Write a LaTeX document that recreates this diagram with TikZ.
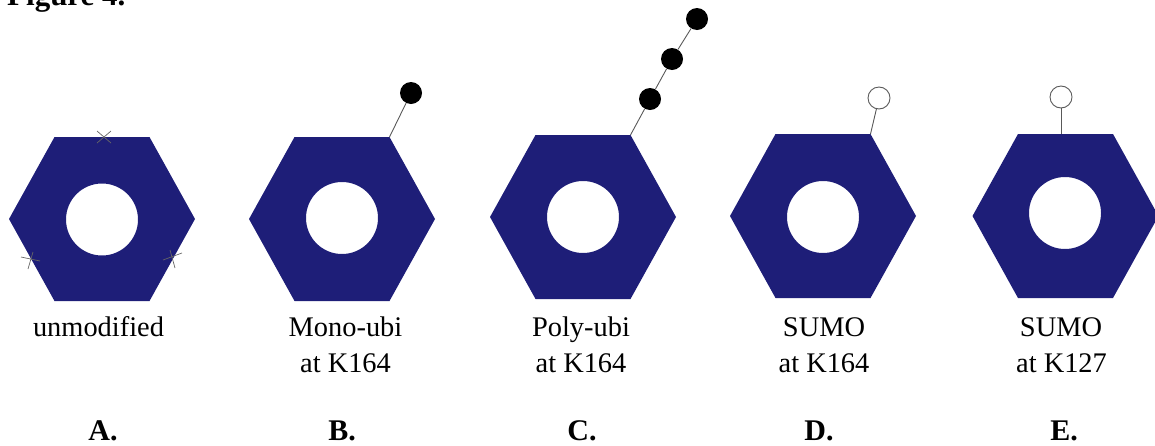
\documentclass[tikz,border=0pt]{standalone}
\usepackage{fontspec}
\setmainfont{Liberation Serif}
\definecolor{hexblue}{RGB}{30,30,120}
\newcommand\hexring[5]{% cx, cy, hole cx, hole cy, name
  \fill[hexfill] (#1-93,#2) -- (#1-47.5,#2-82) -- (#1+47.5,#2-82) -- (#1+93,#2)
    -- (#1+47.5,#2+82) -- (#1-47.5,#2+82) -- cycle
    (#3,#4) circle[radius=36];
  \coordinate (#5-tr) at (#1+47.5,#2-82);
}
\begin{document}
\begin{tikzpicture}[x=1pt,y=-1pt,
  hexfill/.style={fill=hexblue, even odd rule},
  stem/.style={draw=black!65, line width=0.9pt},
  ubi/.style={circle, fill=black, inner sep=0pt, minimum size=22pt},
  sumo/.style={circle, draw=black!65, fill=white, line width=0.9pt, inner sep=0pt, minimum size=22pt},
  lab/.style={anchor=base, font=\fontsize{28.4}{34}\selectfont, inner sep=0pt},
  letter/.style={anchor=base, font=\fontsize{30}{36}\selectfont\bfseries, inner sep=0pt},
  cross/.style={draw=black!60, line width=0.7pt}]
\useasboundingbox (0,0) rectangle (1155,445);

\node[anchor=base west, inner sep=0pt, font=\fontsize{31}{36}\selectfont\bfseries] (fig) at (7,5) {Figure 4.};

% A
\hexring{102}{219}{102}{219.5}{A}
\draw[cross] (97,131) -- (111,143) (97,143) -- (111,131);
\draw[cross] (21,257) -- (40,261) (28,269) -- (33,252);
\draw[cross] (163,260) -- (182,253) (170,250) -- (175,268);
\node[lab] (la) at (98.5,336) {unmodified};
\node[letter] (ca) at (103,440) {A.};

% B
\hexring{342}{219}{342}{218}{B}
\node[ubi] (b1) at (411,93) {};
\draw[stem] (B-tr) -- (b1);
\node[lab] (lb1) at (345.5,336) {Mono-ubi};
\node[lab] (lb2) at (345.5,372) {at K164};
\node[letter] (cb) at (342,440) {B.};

% C
\hexring{583}{217}{583}{217}{C}
\node[ubi] (c1) at (650,99) {};
\node[ubi] (c2) at (672,59) {};
\node[ubi] (c3) at (697,19) {};
\draw[stem] (C-tr) -- (c1) -- (c2) -- (c3);
\node[lab] (lc1) at (581,336) {Poly-ubi};
\node[lab] (lc2) at (581,372) {at K164};
\node[letter] (cc) at (582,440) {C.};

% D
\hexring{823}{216}{823}{217}{D}
\node[sumo] (d1) at (879,98) {};
\draw[stem] (D-tr) -- (d1);
\node[lab] (ld1) at (824,336) {SUMO};
\node[lab] (ld2) at (824,372) {at K164};
\node[letter] (cd) at (819,440) {D.};

% E
\hexring{1065.5}{216}{1065}{213}{E}
\coordinate (E-t) at (1061,134);
\node[sumo] (e1) at (1061,97) {};
\draw[stem] (E-t) -- (e1);
\node[lab] (le1) at (1061,336) {SUMO};
\node[lab] (le2) at (1061.5,372) {at K127};
\node[letter] (ce) at (1064,440) {E.};
\end{tikzpicture}
\end{document}
